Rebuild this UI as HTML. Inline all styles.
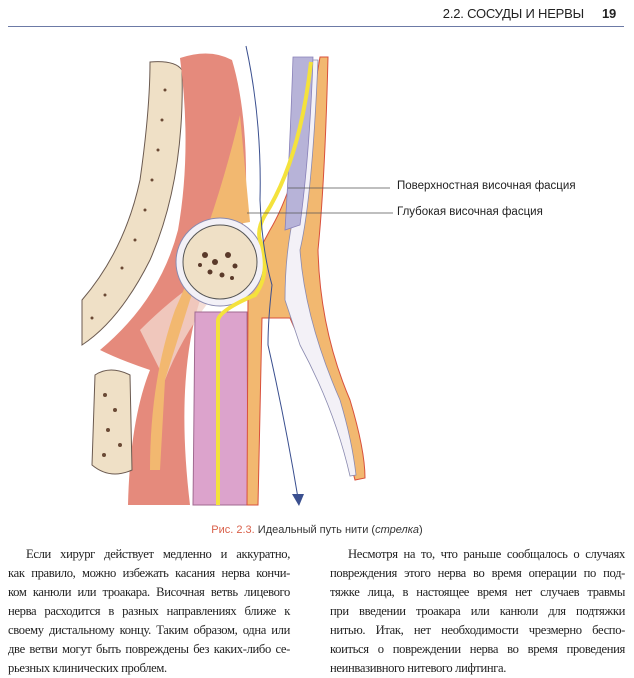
<!DOCTYPE html><html><head><meta charset="utf-8"><style>
body{margin:0;width:634px;height:674px;background:#fff;position:relative;overflow:hidden;font-family:"Liberation Sans",sans-serif}
.hd{position:absolute;top:6px;right:18px;font-size:13px;color:#222;letter-spacing:-0.2px}
.hd b{margin-left:18px}
.rule{position:absolute;left:8px;right:10px;top:26px;height:1px;background:#6c7aa6}
.lbl{position:absolute;font-size:11.5px;color:#222}
.cap{position:absolute;top:524px;left:0;width:634px;text-align:center;font-size:11px;color:#333}
.cap span{color:#d9604a}
.col{position:absolute;top:545px;font-family:"Liberation Serif",serif;font-size:12.6px;line-height:19px;color:#222;letter-spacing:-0.35px;white-space:nowrap}
.col div{text-align:justify;text-align-last:justify}
.col div.l{text-align-last:left}
.col div.i{padding-left:18px}
</style></head><body>
<div class="hd">2.2. СОСУДЫ И НЕРВЫ<b>19</b></div>
<div class="rule"></div>
<svg width="634" height="674" style="position:absolute;left:0;top:0">
<!-- left bone stripe -->
<path d="M150,62 Q175,60 182,70 Q185,180 150,260 Q120,320 82,345 L82,300 Q125,250 140,180 Q150,110 150,62Z" fill="#efe0c6" stroke="#6b5a50" stroke-width="1"/>
<g fill="#6a4a35"><circle cx="165" cy="90" r="1.5"/><circle cx="162" cy="120" r="1.5"/><circle cx="158" cy="150" r="1.5"/><circle cx="152" cy="180" r="1.5"/><circle cx="145" cy="210" r="1.5"/><circle cx="135" cy="240" r="1.5"/><circle cx="122" cy="268" r="1.5"/><circle cx="105" cy="295" r="1.5"/><circle cx="92" cy="318" r="1.5"/></g>
<!-- muscle -->
<path d="M180,58 Q210,48 232,60 Q250,120 245,220 L200,300 Q175,380 190,505 L128,505 Q130,420 150,370 Q120,360 100,350 Q160,300 178,230 Q192,150 180,58Z" fill="#e58a7c"/>
<path d="M140,330 Q170,300 200,280 L210,300 Q180,340 165,380Z" fill="#f3d6cc" opacity=".8"/>
<!-- fat triangle -->
<path d="M240,115 L250,222 Q230,225 215,230 Q205,260 190,300 L165,380 L160,470 L150,470 Q150,380 175,310 Q215,220 240,115Z" fill="#f2b870"/>
<!-- lower-left bone -->
<path d="M95,375 Q110,365 130,375 L132,470 Q110,480 92,465Z" fill="#efe0c6" stroke="#6b5a50" stroke-width="1"/>
<g fill="#6a4a35"><circle cx="105" cy="395" r="2"/><circle cx="115" cy="410" r="2"/><circle cx="108" cy="430" r="2"/><circle cx="120" cy="445" r="2"/><circle cx="104" cy="455" r="2"/></g>
<!-- pink band -->
<path d="M195,312 L247,312 L248,505 L193,505Z" fill="#dca3cc" stroke="#a06a90" stroke-width="1"/>
<!-- right fat band -->
<path d="M320,57 L328,57 Q325,180 318,250 Q320,330 350,400 Q365,450 365,478 L355,480 Q340,420 310,360 Q295,330 290,318 L262,318 L258,505 L247,505 L248,300 Q255,260 262,245 L270,230 Q300,180 320,57Z" fill="#f2b870" stroke="#d8503c" stroke-width="1"/>
<path d="M312,60 L318,60 Q312,200 300,250 Q305,320 340,400 Q352,440 356,475 L350,476 Q335,410 300,345 L285,300 Q285,250 295,210 Q308,140 312,60Z" fill="#f3f1f7" stroke="#8a8ab0" stroke-width=".8"/>
<!-- purple fascia -->
<path d="M293,57 L313,57 Q310,150 300,225 L285,230 Q290,150 293,57Z" fill="#b7b3d8" stroke="#8880b8" stroke-width=".8"/>
<!-- bone circle -->
<circle cx="220" cy="262" r="44" fill="#f3f1f7" stroke="#8a8ab0"/>
<circle cx="220" cy="262" r="37" fill="#efe0c6" stroke="#555"/>
<g fill="#5a3a2a"><circle cx="205" cy="255" r="3"/><circle cx="215" cy="262" r="3"/><circle cx="228" cy="255" r="3"/><circle cx="235" cy="266" r="2.5"/><circle cx="210" cy="272" r="2.5"/><circle cx="222" cy="275" r="2.5"/><circle cx="200" cy="265" r="2"/><circle cx="232" cy="278" r="2"/></g>
<!-- nerve -->
<path d="M311,62 Q300,160 265,215 Q255,232 262,245 Q270,275 255,295 Q220,310 218,320 L218,505" fill="none" stroke="#f4e23c" stroke-width="4"/>
<!-- arrow -->
<path d="M246,46 Q262,120 260,200 Q262,250 272,285 Q268,320 268,345 Q285,420 298,498" fill="none" stroke="#3a4f8f" stroke-width="1"/>
<path d="M292,494 L304,494 L299,506Z" fill="#3a4f8f"/>
<!-- leaders -->
<line x1="288" y1="188" x2="390" y2="188" stroke="#555" stroke-width=".8"/>
<line x1="247" y1="213" x2="393" y2="213" stroke="#555" stroke-width=".8"/>
</svg>
<div class="lbl" style="left:397px;top:180px">Поверхностная височная фасция</div>
<div class="lbl" style="left:397px;top:206px">Глубокая височная фасция</div>
<div class="cap"><span>Рис. 2.3.</span> Идеальный путь нити (<i>стрелка</i>)</div>
<div class="col" style="left:8px;width:282px">
<div class="i">Если хирург действует медленно и аккуратно,</div>
<div>как правило, можно избежать касания нерва кончи-</div>
<div>ком канюли или троакара. Височная ветвь лицевого</div>
<div>нерва расходится в разных направлениях ближе к</div>
<div>своему дистальному концу. Таким образом, одна или</div>
<div>две ветви могут быть повреждены без каких-либо се-</div>
<div class="l">рьезных клинических проблем.</div>
</div>
<div class="col" style="left:330px;width:295px">
<div class="i">Несмотря на то, что раньше сообщалось о случаях</div>
<div>повреждения этого нерва во время операции по под-</div>
<div>тяжке лица, в настоящее время нет случаев травмы</div>
<div>при введении троакара или канюли для подтяжки</div>
<div>нитью. Итак, нет необходимости чрезмерно беспо-</div>
<div>коиться о повреждении нерва во время проведения</div>
<div class="l">неинвазивного нитевого лифтинга.</div>
</div>
</body></html>
